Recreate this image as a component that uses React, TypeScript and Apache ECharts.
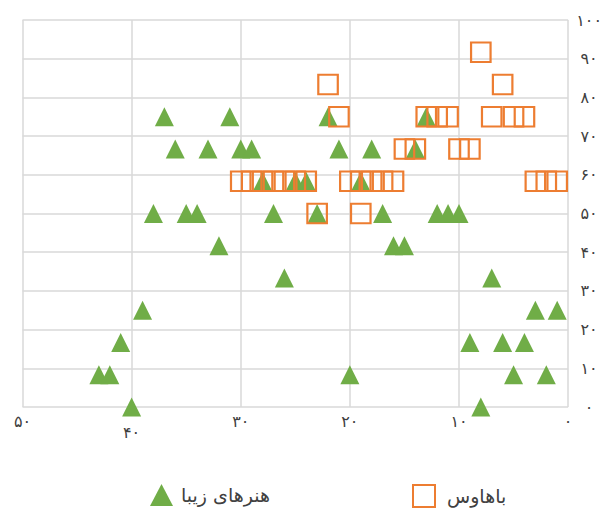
import React, { useEffect, useRef } from "react";
import * as echarts from "echarts";

// Series names (legend)
const fineArtsName = "هنرهای زیبا";
const bauhausName = "باهاوس";

// Green triangles: هنرهای زیبا
const fineArtsX = [
  37, 31, 22, 13,
  36, 33, 30, 29, 21, 18, 14,
  28, 25, 24, 19,
  38, 35, 34, 27, 23, 17, 12, 11, 10,
  32, 16, 15,
  26, 7,
  39, 3, 1,
  41, 9, 6, 4,
  43, 42, 20, 5, 2,
  40, 8,
];
const fineArtsY = [
  75, 75, 75, 75,
  66.67, 66.67, 66.67, 66.67, 66.67, 66.67, 66.67,
  58.33, 58.33, 58.33, 58.33,
  50, 50, 50, 50, 50, 50, 50, 50, 50,
  41.67, 41.67, 41.67,
  33.33, 33.33,
  25, 25, 25,
  16.67, 16.67, 16.67, 16.67,
  8.33, 8.33, 8.33, 8.33, 8.33,
  0, 0,
];

// Orange hollow squares: باهاوس
const bauhausX = [
  8,
  22, 6,
  21, 13, 12, 11, 7, 5, 4,
  15, 14, 10, 9,
  30, 29, 28, 27, 26, 25, 24, 20, 19, 18, 17, 16, 3, 2, 1,
  23, 19,
];
const bauhausY = [
  91.67,
  83.33, 83.33,
  75, 75, 75, 75, 75, 75, 75,
  66.67, 66.67, 66.67, 66.67,
  58.33, 58.33, 58.33, 58.33, 58.33, 58.33, 58.33, 58.33, 58.33, 58.33, 58.33, 58.33, 58.33, 58.33, 58.33,
  50, 50,
];

// Tick labels (Persian digits), indexed by value / 10
const xTickLabels = ["۰", "۱۰", "۲۰", "۳۰", "۴۰", "۵۰"];
const yTickLabels = ["۰", "۱۰", "۲۰", "۳۰", "۴۰", "۵۰", "۶۰", "۷۰", "۸۰", "۹۰", "۱۰۰"];
const loweredXTick = 40;

const FONT = "'DejaVu Sans', sans-serif";
const GREEN = "#70AD47";
const ORANGE = "#ED7D31";
const GRID = "#d9d9d9";
const LABEL = "#404040";

export default function App() {
  const ref = useRef<HTMLDivElement>(null);

  useEffect(() => {
    if (!ref.current) return;
    const chart = echarts.init(ref.current, null, { renderer: "svg" });
    chart.setOption({
      animation: false,
      backgroundColor: "#ffffff",
      grid: { left: 22.5, right: 35.7, top: 20, bottom: 102, containLabel: false },
      xAxis: {
        type: "value",
        min: 0,
        max: 50,
        interval: 10,
        inverse: true,
        axisLine: { show: false },
        axisTick: { show: false },
        splitLine: { show: true, lineStyle: { color: GRID, width: 1.5 } },
        axisLabel: {
          margin: 6,
          color: LABEL,
          fontSize: 16,
          fontFamily: FONT,
          formatter: (v: number) => {
            const t = xTickLabels[Math.round(v / 10)];
            return v === loweredXTick ? "{low|" + t + "}" : t;
          },
          rich: {
            low: { lineHeight: 38, color: LABEL, fontSize: 16, fontFamily: FONT },
          },
        },
      },
      yAxis: {
        type: "value",
        position: "right",
        min: 0,
        max: 100,
        interval: 10,
        axisLine: { show: false },
        axisTick: { show: false },
        splitLine: { show: true, lineStyle: { color: GRID, width: 1.5 } },
        axisLabel: {
          margin: 21,
          align: "center",
          color: LABEL,
          fontSize: 16,
          fontFamily: FONT,
          formatter: (v: number) => yTickLabels[Math.round(v / 10)],
        },
      },
      legend: [
        {
          data: [fineArtsName],
          left: 150,
          top: 484,
          padding: 0,
          itemWidth: 23,
          itemHeight: 22,
          itemGap: 0,
          textStyle: { color: LABEL, fontSize: 19, lineHeight: 22, fontFamily: FONT, padding: [0, 0, 0, 3] },
        },
        {
          data: [bauhausName],
          left: 412,
          top: 484,
          padding: 0,
          itemWidth: 22,
          itemHeight: 22,
          itemGap: 0,
          textStyle: { color: LABEL, fontSize: 19, lineHeight: 22, fontFamily: FONT, padding: [0, 0, 0, 7] },
        },
      ],
      series: [
        {
          type: "scatter",
          name: fineArtsName,
          symbol: "triangle",
          symbolSize: 19,
          itemStyle: { color: GREEN, opacity: 1 },
          data: fineArtsX.map((x, i) => [x, fineArtsY[i]]),
          z: 2,
        },
        {
          type: "scatter",
          name: bauhausName,
          symbol: "rect",
          symbolSize: 19.5,
          itemStyle: { color: "rgba(0,0,0,0)", borderColor: ORANGE, borderWidth: 2.2, opacity: 1 },
          data: bauhausX.map((x, i) => [x, bauhausY[i]]),
          z: 3,
        },
      ],
    });
    return () => chart.dispose();
  }, []);

  return (
    <div
      ref={ref}
      style={{ position: "fixed", left: 0, top: 0, width: 605, height: 509, background: "#fff" }}
    />
  );
}
